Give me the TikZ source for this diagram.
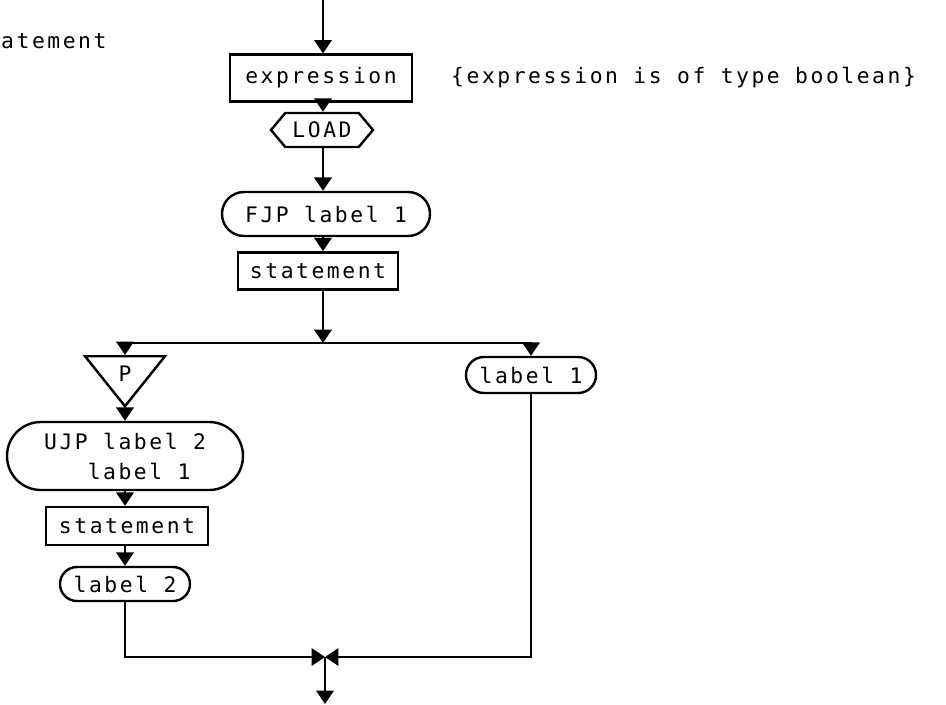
\documentclass[tikz,border=0pt]{standalone}
\usepackage{fontspec}
\setmonofont{DejaVu Sans Mono}[LetterSpace=12]
\usetikzlibrary{arrows.meta,shapes.geometric,shapes.symbols}

\tikzset{
    box/.style={draw, rectangle, inner sep=0pt},
    term/.style={draw, rectangle, rounded corners=#1, inner sep=0pt},
    loadbox/.style={draw, signal, signal to=west and east, signal pointer angle=100, inner sep=0pt},
    flow/.style={-{Triangle[width=13pt,length=10pt]}},
}

\begin{document}
\begin{tikzpicture}[x=0.75pt, y=-0.75pt, line width=1.8pt, font=\ttfamily\fontsize{16}{22.5}\selectfont]
        \useasboundingbox (0,0) rectangle (946,704);

        % Condition
        \node[anchor=west, inner sep=0pt] (title) at (0,41) {atement};
        \coordinate (start) at (323,0);
        \node[box, minimum width=136.5pt, minimum height=35pt] (expr) at (321,78) {expression};
        \node[anchor=west, inner sep=0pt] (note) at (450,78) {\{expression is of type boolean\}};
        \node[loadbox, minimum width=76.5pt, minimum height=25.5pt] (load) at (322,130) {LOAD};
        \node[term=16.4pt, minimum width=156pt, minimum height=33pt] (fjp) at (326,214) {FJP label 1};
        \node[box, minimum width=120pt, minimum height=28pt] (stmt) at (318,271) {statement};
        \coordinate (split) at (323,343);

        % Then part
        \node[draw, isosceles triangle, shape border rotate=270, isosceles triangle stretches,
              minimum width=60pt, minimum height=37.5pt, inner sep=0pt, anchor=north] (ptri) at (125,355) {P};
        \node[term=25.4pt, minimum width=177pt, minimum height=51pt, align=left] (ujp) at (125,456)
            {UJP label 2\\\phantom{UJP}label 1};
        \node[box, minimum width=121.5pt, minimum height=28.5pt] (stmt2) at (127,526) {statement};
        \node[term=12.7pt, minimum width=97.5pt, minimum height=25.5pt] (lab2) at (125,584) {label 2};

        % Else part
        \node[term=13.4pt, minimum width=97.5pt, minimum height=27pt] (lab1) at (531,375) {label 1};

        % Join
        \coordinate (join) at (325,657);
        \coordinate (stop) at (325,704);

        \draw[flow] (start) -- (start |- expr.north);
        \draw[flow] (expr.south -| start) -- (load.north -| start);
        \draw[flow] (load.south -| start) -- (fjp.north -| start);
        \draw[flow] (fjp.south -| start) -- (stmt.north -| start);
        \draw[flow] (stmt.south -| start) -- (split);
        \draw[flow] (split) -| (ptri.north);
        \draw[flow] (split) -| (lab1);
        \draw[flow] (ptri.apex) -- (ujp);
        \draw[flow] (ujp) -- (ujp |- stmt2.north);
        \draw[flow] (stmt2.south -| ujp) -- (lab2);
        \draw[flow] (lab2) |- (join);
        \draw[flow] (lab1) |- (join);
        \draw[flow] (join) -- (stop);
    \end{tikzpicture}
\end{document}
